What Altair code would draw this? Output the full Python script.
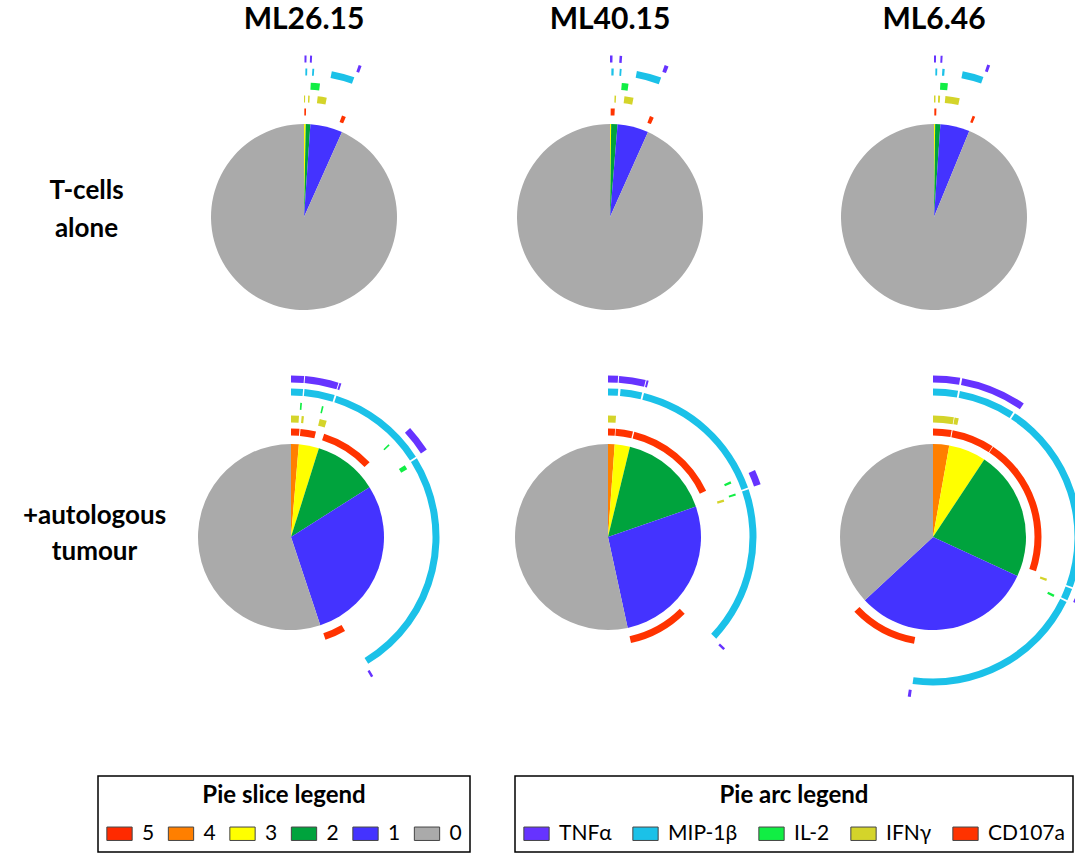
import math

import altair as alt
import pandas as pd

# ---------------------------------------------------------------- data
SAMPLES = ["ML26.15", "ML40.15", "ML6.46"]
ROW_LABELS = [["T-cells", "alone"], ["+autologous", "tumour"]]

# pie slices: % of cells by number of functions (5, 4, 3, 2, 1, 0)
SLICE_KEYS = ["5", "4", "3", "2", "1", "0"]
SLICE_COLORS = ["#FF2A00", "#FF7F00", "#FFFF00", "#00A33D", "#4433FF", "#AAAAAA"]

ML26_ALONE = [0.0, 0.0, 0.3, 0.8, 5.6, 93.3]
ML40_ALONE = [0.0, 0.0, 0.2, 1.1, 5.4, 93.3]
ML646_ALONE = [0.0, 0.0, 0.2, 0.9, 5.1, 93.8]
ML26_TUMOUR = [0.0, 1.35, 3.5, 11.15, 28.9, 55.1]
ML40_TUMOUR = [0.0, 1.15, 2.65, 15.9, 26.9, 53.4]
ML646_TUMOUR = [0.0, 2.8, 6.5, 22.6, 31.2, 36.9]

# pie arcs: cumulative % ranges of the pie covered by each function
CYTOKINES = ["TNFα", "MIP-1β", "IL-2", "IFNγ", "CD107a"]
CYTOKINE_COLORS = ["#6633FF", "#1BC1E8", "#11EE44", "#D4D42A", "#FF3300"]

ML26_ALONE_ARCS = {
    "TNFα": [(0.05, 0.25), (0.6, 0.8), (5.5, 5.8)],
    "MIP-1β": [(0.15, 0.35), (0.9, 1.1), (3.0, 5.5)],
    "IL-2": [(0.8, 1.9)],
    "IFNγ": [(0.0, 0.15), (0.55, 0.75), (1.8, 3.0)],
    "CD107a": [(0.05, 0.3), (5.7, 6.3)],
}
ML40_ALONE_ARCS = {
    "TNFα": [(0.0, 0.25), (0.95, 1.2), (5.5, 5.9)],
    "MIP-1β": [(0.15, 0.4), (1.05, 1.25), (2.9, 5.6)],
    "IL-2": [(1.4, 2.2)],
    "IFNγ": [(0.6, 0.8), (1.9, 3.1)],
    "CD107a": [(0.1, 0.7), (6.0, 6.6)],
}
ML646_ALONE_ARCS = {
    "TNFα": [(0.0, 0.2), (0.65, 0.85), (5.35, 5.65)],
    "MIP-1β": [(0.15, 0.35), (0.9, 1.15), (3.1, 5.4)],
    "IL-2": [(0.75, 1.65)],
    "IFNγ": [(0.0, 0.2), (0.55, 0.8), (1.5, 3.4)],
    "CD107a": [(0.05, 0.35), (5.8, 6.2)],
}
ML26_TUMOUR_ARCS = {
    "TNFα": [(0.0, 1.3), (1.4, 4.75), (4.85, 5.05), (13.2, 15.9), (41.5, 41.75)],
    "MIP-1β": [(0.0, 1.3), (1.45, 4.75), (4.95, 15.9), (16.1, 41.3)],
    "IL-2": [(1.1, 1.3), (3.7, 3.9), (12.9, 13.1), (16.05, 16.6)],
    "IFNγ": [(0.0, 1.05), (1.4, 1.7), (3.8, 4.75)],
    "CD107a": [(0.0, 1.25), (1.4, 3.7), (4.95, 12.9), (41.7, 44.85)],
}
ML40_TUMOUR_ARCS = {
    "TNFα": [(0.0, 1.0), (1.1, 3.75), (3.85, 4.05), (18.2, 19.7), (37.1, 37.35)],
    "MIP-1β": [(0.0, 1.1), (1.35, 3.7), (3.9, 19.6), (19.8, 37.0)],
    "IL-2": [(18.2, 18.5), (19.75, 20.0)],
    "IFNγ": [(0.0, 1.05), (20.0, 20.3)],
    "CD107a": [(0.0, 1.05), (1.15, 3.7), (3.9, 18.0), (37.5, 46.6)],
}
ML646_TUMOUR_ARCS = {
    "TNFα": [(0.0, 2.7), (2.9, 9.5), (31.5, 31.9), (52.2, 52.5)],
    "MIP-1β": [(0.0, 2.7), (2.9, 9.1), (9.3, 30.5), (30.7, 32.0), (32.2, 52.2)],
    "IL-2": [(32.05, 32.35)],
    "IFNγ": [(0.0, 2.75), (2.85, 3.4), (30.6, 30.9)],
    "CD107a": [(0.0, 2.75), (2.9, 9.25), (9.35, 30.1), (52.8, 62.9)],
}

# ---------------------------------------------------------------- styling
FONT = "Lato"
THETA = alt.Scale(domain=[0, 100], range=[0, 2 * math.pi])
PIE_R = 93
RING_MID = {"CD107a": 105, "IFNγ": 118, "IL-2": 131, "MIP-1β": 145, "TNFα": 158}
RING_HALF = 3.5
RECT_SYMBOL = "M-1,-0.53H1V0.53H-1Z"

LEGEND_STYLE = dict(
    orient="none",
    direction="horizontal",
    titleAnchor="middle",
    titleFont=FONT,
    titleFontSize=24,
    titleFontWeight="bold",
    titleColor="black",
    titlePadding=12,
    labelFont=FONT,
    labelFontSize=21,
    labelColor="black",
    labelOffset=9,
    symbolType=RECT_SYMBOL,
    symbolSize=640,
    symbolStrokeColor="#444444",
    symbolStrokeWidth=1,
    strokeColor="black",
    fillColor="white",
    padding=8,
)
slice_legend = alt.Legend(title="Pie slice legend", legendX=98, legendY=709,
                          columnPadding=10.5, **LEGEND_STYLE)
arc_legend = alt.Legend(title="Pie arc legend", legendX=515, legendY=709,
                        columnPadding=18, **LEGEND_STYLE)


def slice_table(values):
    rows, acc = [], 0.0
    for key, v in zip(SLICE_KEYS, values):
        rows.append({"funcs": key, "start": acc, "end": acc + v})
        acc += v
    return pd.DataFrame(rows)


def arc_table(arcs):
    rows = [{"cytokine": c, "start": a, "end": b}
            for c in CYTOKINES for a, b in arcs[c]]
    return pd.DataFrame(rows)


def pie(values, arcs, width, height, title=None, clip=False):
    slices = alt.Chart(slice_table(values)).mark_arc(outerRadius=PIE_R).encode(
        theta=alt.Theta("start:Q", scale=THETA, stack=None),
        theta2="end:Q",
        color=alt.Color("funcs:N",
                        scale=alt.Scale(domain=SLICE_KEYS, range=SLICE_COLORS),
                        legend=slice_legend),
    )
    table = arc_table(arcs)
    rings = [
        alt.Chart(table)
        .transform_filter(alt.datum.cytokine == c)
        .mark_arc(innerRadius=RING_MID[c] - RING_HALF,
                  outerRadius=RING_MID[c] + RING_HALF, clip=clip)
        .encode(
            theta=alt.Theta("start:Q", scale=THETA, stack=None),
            theta2="end:Q",
            fill=alt.Fill("cytokine:N",
                          scale=alt.Scale(domain=CYTOKINES, range=CYTOKINE_COLORS),
                          legend=arc_legend),
        )
        for c in CYTOKINES
    ]
    chart = alt.layer(slices, *rings).properties(width=width, height=height)
    if title:
        chart = chart.properties(title=alt.TitleParams(
            title, font=FONT, fontSize=30, fontWeight="bold", color="black",
            anchor="middle", frame="group", offset=21))
    return chart


def row_label(lines, width, height, dx, dy, line_height):
    return alt.Chart(pd.DataFrame({"row": [0]})).mark_text(
        text=lines, font=FONT, fontSize=26, fontWeight="bold", color="black",
        lineHeight=line_height, dx=dx, dy=dy,
    ).properties(width=width, height=height)


top_row = alt.hconcat(
    row_label(ROW_LABELS[0], 181, 300, -4, -26, 38),
    pie(ML26_ALONE, ML26_ALONE_ARCS, 246, 300, SAMPLES[0]),
    pie(ML40_ALONE, ML40_ALONE_ARCS, 366, 300, SAMPLES[1]),
    pie(ML646_ALONE, ML646_ALONE_ARCS, 282, 300, SAMPLES[2]),
    spacing=0, bounds="flush",
)
bottom_row = alt.hconcat(
    row_label(ROW_LABELS[1], 157, 336, 16, -21, 36),
    pie(ML26_TUMOUR, ML26_TUMOUR_ARCS, 268, 336),
    pie(ML40_TUMOUR, ML40_TUMOUR_ARCS, 366, 336),
    pie(ML646_TUMOUR, ML646_TUMOUR_ARCS, 284, 336, clip=True),
    spacing=0, bounds="flush",
)

chart = (
    alt.vconcat(top_row, bottom_row, spacing=2)
    .properties(padding={"left": 0, "top": 4, "right": 0, "bottom": 0},
                background="white")
    .configure_view(stroke=None, fill="transparent")
    .configure_legend(strokeWidth=1.5)
)

chart.save("out.html", embed_options={"renderer": "svg", "actions": False})
